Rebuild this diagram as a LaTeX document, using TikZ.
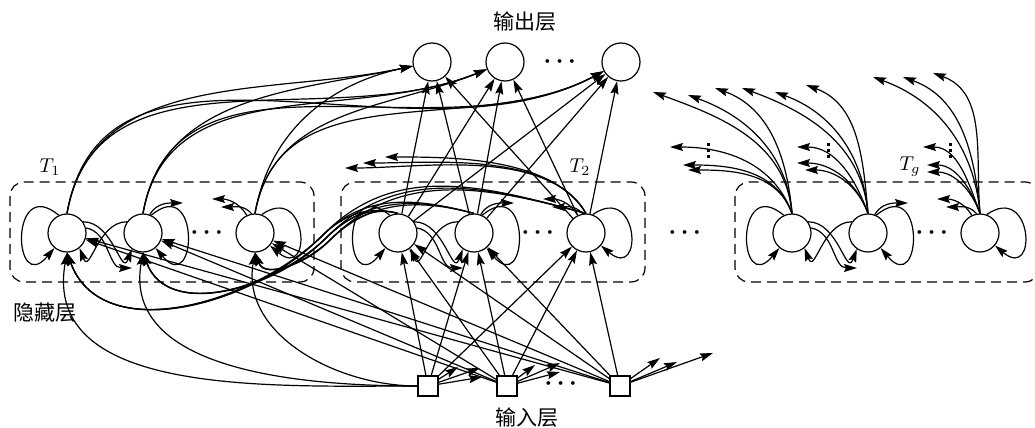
\documentclass[tikz,border=0pt]{standalone}
\usepackage{amssymb, amsmath}
\usepackage{fontspec}
\newfontfamily\cjk{Noto Sans CJK SC}
\usepackage{tikz}
\usetikzlibrary{arrows.meta}

\begin{document}
\begin{tikzpicture}[
   x=0.5pt, y=-0.5pt,
   neuron/.style={circle, draw=black, fill=white, line width=0.6, inner sep=0, minimum size=19pt},
   inbox/.style={rectangle, draw=black, fill=white, line width=0.6, inner sep=0, minimum size=10pt},
   wire/.style={->, >={Stealth[length=6.5pt, width=4pt, inset=1pt]}, line width=0.6},
   layerbox/.style={draw=black, line width=0.6, dash pattern=on 5pt off 3pt, rounded corners=7pt},
   cnlabel/.style={font=\cjk\fontsize{10.5}{12}\selectfont},
   dotsym/.style={font=\large\boldmath}
  ]

  \useasboundingbox (0,0) rectangle (1035,428);
  \clip (0,0) rectangle (1035,428);

  % Output layer
  \node (o1) at (432,62) [neuron] {};
  \node (o2) at (505,62) [neuron] {};
  \node (o3) at (621,62) [neuron] {};
  \node (od) at (562,62) [dotsym] {$\cdots$};
  \node (otitle) at (525,22) [cnlabel] {输出层};

  % Input layer
  \node (x1) at (428,386) [inbox] {};
  \node (x2) at (507,386) [inbox] {};
  \node (x3) at (620,386) [inbox] {};
  \node (xd) at (563,384) [dotsym] {$\cdots$};
  \node (xtitle) at (527,418) [cnlabel] {输入层};

  \node (htitle) at (45,313) [cnlabel] {隐藏层};
  \node (gd) at (687,233) [dotsym] {$\cdots$};

  % Hidden groups
  \foreach \g/\gx/\tx in {1/67/-17, 2/398/182, g/792/118} {
    \begin{scope}[shift={(\gx,0)}]
      \draw[layerbox] (-57,182) rectangle (247,282);
      \node (t\g) at (\tx,167) {$T_\g$};
      \node (h\g1) at (0,233) [neuron] {};
      \node (h\g2) at (76,233) [neuron] {};
      \node (h\g3) at (188,233) [neuron] {};
      \node (d\g) at (142,233) [dotsym] {$\cdots$};
      \coordinate (e\g1) at (65,268);
      \coordinate (e\g2) at (116,203);
      \coordinate (e\g3) at (145,199);
      \coordinate (e\g4) at (154,207);

      \draw[wire] (h\g1.115) to[out=140, in=230, looseness=5] (h\g1.230);
      \draw[wire] (h\g2.65) to[out=40, in=-50, looseness=5] (h\g2.-50);
      \draw[wire] (h\g3.70) to[out=35, in=-40, looseness=4.5] (h\g3.-40);

      \draw[wire] (h\g1.35) to[out=0, in=250, looseness=1.4] (h\g2.235);
      \draw[wire] (h\g2.145) to[out=180, in=-70, looseness=1.4] (h\g1.-50);
      \draw[wire] (h\g1.15) to[out=-10, in=180] (e\g1);
      \draw[wire] (h\g2.70) to[out=60, in=180] (e\g2);
      \draw[wire] (h\g3.115) to[out=120, in=0] (e\g3);
      \draw[wire] (h\g3.100) to[out=130, in=0] (e\g4);
    \end{scope}
  }

  % Hidden -> output, input -> hidden
  \foreach \k in {1,2,3} {
    \foreach \o/\ang in {1/192, 2/202, 3/208} {
      \draw[wire] (h1\k.north) to[out=80, in=\ang] (o\o);
      \draw[wire] (h2\k) -- (o\o);
      \draw[wire] (x\o) -- (h2\k);
    }
    \draw[wire] (x1.west) to[out=180, in=-100] (h1\k.south);
    \draw[wire] (x2) -- (h1\k);
    \draw[wire] (x3) -- (h1\k);
  }

  % T2 back to T1
  \foreach \i in {1,2,3} {
    \foreach \j in {1,2,3} {
      \coordinate (w\i\j) at ({316+2*\i+3*\j}, {236+3*\j-2*\i});
      \draw[wire] (h2\i.north) to[out=165, in=45] (w\i\j) to[out=225, in=-70] (h1\j.south);
    }
  }
  \foreach \ux/\uy [count=\n] in {385/157, 363/163, 345/168} {
    \coordinate (u\n) at (\ux,\uy);
    \draw[wire] (h23.north) to[out=120, in=0, looseness=0.8] (u\n);
  }

  % Tg to cut-off targets
  \foreach \k/\longs/\shorts/\vx in {
      1/{653/92,688/95,715/88}/{670/147,683/165,688/170}/708,
      2/{742/88,775/92,806/85}/{797/147,797/163,805/170}/828,
      3/{873/77,903/77,933/73}/{923/147,927/165,927/172}/950} {
    \foreach \ex/\ey [count=\n] in \longs {
      \coordinate (l\k\n) at (\ex,\ey);
      \draw[wire] (hg\k.north) to[out=95, in=-20] (l\k\n);
    }
    \foreach \ex/\ey [count=\n] in \shorts {
      \coordinate (s\k\n) at (\ex,\ey);
      \draw[wire] (hg\k.north) to[out=110, in=0] (s\k\n);
    }
    \coordinate (vt\k) at (\vx,143);
    \coordinate (vb\k) at (\vx,160);
    \draw[line width=1.5, dash pattern=on 1.5pt off 1.5pt] (vt\k) -- (vb\k);
  }

  % Inputs to cut-off targets
  \foreach \k/\ends in {1/{458/367,480/368,482/377}, 2/{535/365,560/363,560/372}, 3/{660/358,677/362,713/353}} {
    \foreach \ex/\ey [count=\n] in \ends {
      \coordinate (r\k\n) at (\ex,\ey);
      \draw[wire] (x\k) -- (r\k\n);
    }
  }

\end{tikzpicture}
\end{document}
